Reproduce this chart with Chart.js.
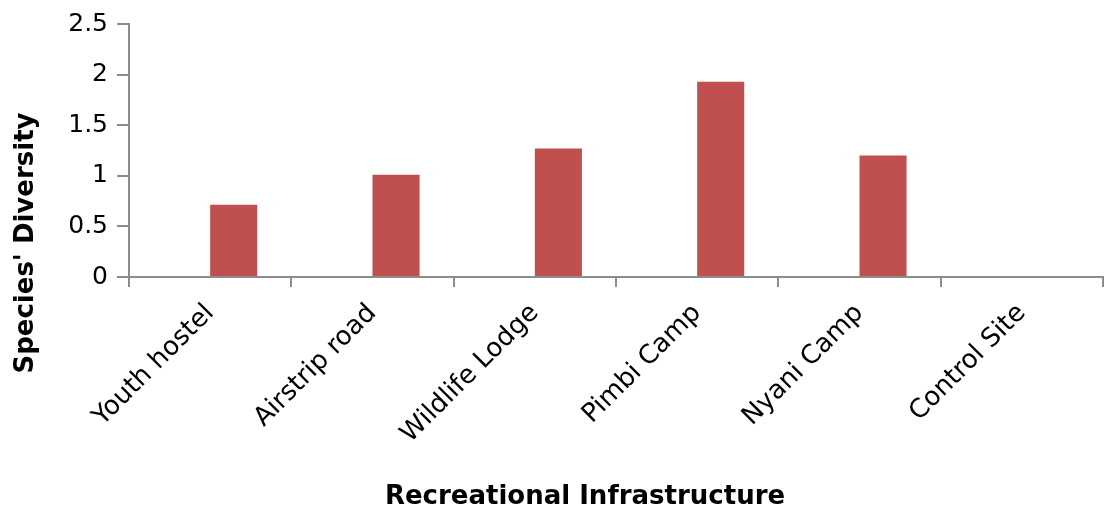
<!DOCTYPE html>
<html>
<head>
<meta charset="utf-8">
<script src="https://cdn.jsdelivr.net/npm/chart.js@4.4.1/dist/chart.umd.min.js"></script>
<style>
  html, body { margin: 0; padding: 0; background: #fff; }
  #wrap { width: 1105px; height: 509px; }
</style>
</head>
<body>
<div id="wrap"><canvas id="chart"></canvas></div>
<script>
// Sites along the recreational infrastructure gradient
const sites = ['Youth hostel', 'Airstrip road', 'Wildlife Lodge', 'Pimbi Camp', 'Nyani Camp', 'Control Site'];
// First series has no values recorded, second is the diversity index
const seriesA = [0, 0, 0, 0, 0, 0];
const diversity = [0.714, 1.01, 1.27, 1.93, 1.20, 0];
const yTicks = [0, 0.5, 1, 1.5, 2, 2.5];

const axisGrey = '#8c8c8c';
const font = 'DejaVu Sans';

// axis titles are placed against the whole figure, not the plot area
const axisTitles = {
  id: 'axisTitles',
  afterDraw(chart) {
    const ctx = chart.ctx;
    ctx.save();
    ctx.fillStyle = '#000';
    ctx.font = 'bold 26px "' + font + '"';
    ctx.textAlign = 'center';
    ctx.textBaseline = 'middle';
    ctx.fillText('Recreational Infrastructure', 585, 497);
    ctx.translate(26, 243);
    ctx.rotate(-Math.PI / 2);
    ctx.fillText("Species' Diversity", 0, 0);
    ctx.restore();
  }
};

new Chart(document.getElementById('chart'), {
  type: 'bar',
  data: {
    labels: sites,
    datasets: [
      {
        label: 'Series 1',
        data: seriesA,
        backgroundColor: '#4F81BD',
        minBarLength: 1
      },
      {
        label: "Species' Diversity",
        data: diversity,
        backgroundColor: '#C0504D',
        minBarLength: 1
      }
    ]
  },
  options: {
    responsive: true,
    maintainAspectRatio: false,
    animation: false,
    categoryPercentage: 0.58,
    barPercentage: 1,
    layout: {
      padding: { left: 0, right: 2, top: 12, bottom: 0 }
    },
    plugins: {
      legend: { display: false },
      tooltip: { enabled: false }
    },
    scales: {
      x: {
        border: { color: axisGrey, width: 2 },
        grid: {
          display: true,
          drawOnChartArea: false,
          drawTicks: true,
          tickLength: 10,
          color: axisGrey,
          lineWidth: 2
        },
        ticks: {
          color: '#000',
          font: { family: font, size: 26 },
          minRotation: 45,
          maxRotation: 45,
          padding: 11
        },
        afterFit(scale) { scale.height = 232; }
      },
      y: {
        min: 0,
        max: 2.5,
        border: { color: axisGrey, width: 2 },
        grid: {
          display: true,
          drawOnChartArea: false,
          drawTicks: true,
          tickLength: 12,
          color: axisGrey,
          lineWidth: 2
        },
        afterBuildTicks(scale) {
          scale.ticks = yTicks.map(v => ({ value: v }));
        },
        ticks: {
          color: '#000',
          font: { family: font, size: 25 },
          padding: 9,
          callback: v => String(v)
        },
        afterFit(scale) { scale.width = 129; }
      }
    }
  },
  plugins: [axisTitles]
});
</script>
</body>
</html>
